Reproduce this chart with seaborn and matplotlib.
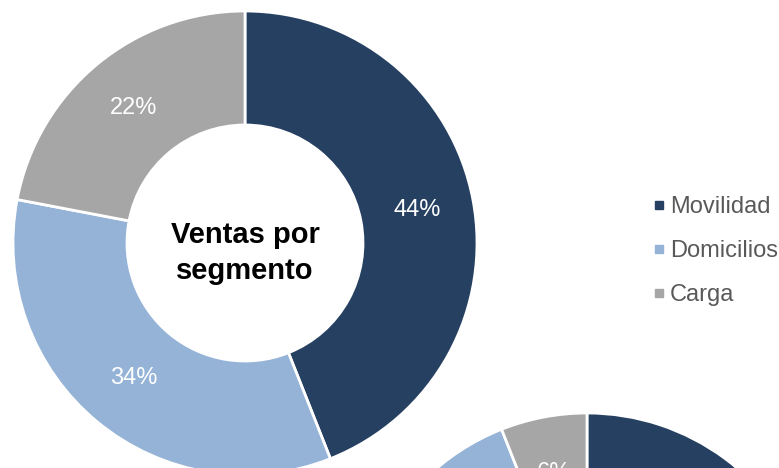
import matplotlib
matplotlib.use('Agg')
import matplotlib.pyplot as plt
import seaborn as sns
from matplotlib.lines import Line2D

sns.set_theme(style="white")
plt.rcParams['font.family'] = ['Liberation Sans', 'DejaVu Sans']

# datos
segmentos = ['Movilidad', 'Domicilios', 'Carga']
ventas = [44, 34, 22]
ventas_2 = [81, 13, 6]
colores = sns.color_palette(['#264061', '#95B3D7', '#A6A6A6'])

W, H = 779, 468
fig = plt.figure(figsize=(W / 100, H / 100), dpi=100)
ax = fig.add_axes([0, 0, 1, 1])

R = 232
ancho = 114
props = dict(width=ancho, edgecolor='white', linewidth=2)
txt = dict(color='white', fontsize=17)

wedges, _, _ = ax.pie(ventas, colors=colores, startangle=90, counterclock=False,
                      radius=R, center=(245, H - 243), wedgeprops=props,
                      autopct='%.0f%%', pctdistance=0.755, textprops=txt)
ax.pie(ventas_2, colors=colores, startangle=90, counterclock=False,
       radius=R, center=(587, H - 645), wedgeprops=props,
       autopct='%.0f%%', pctdistance=0.755, textprops=txt)

ax.text(245, H - 253, 'Ventas por\nsegmento', ha='center', va='center',
        fontsize=21, fontweight='bold', color='black', linespacing=1.4)

ax.set_xlim(0, W)
ax.set_ylim(0, H)
ax.set_aspect('equal')
ax.axis('off')

handles = [Line2D([], [], marker='s', linestyle='none', markersize=6,
                  markerfacecolor=c, markeredgecolor=c) for c in colores]
ax.legend(handles, segmentos, loc='upper left', bbox_to_anchor=(652 / W, 1 - 196 / H),
          frameon=False, fontsize=17, labelcolor='#595959', handlelength=0.6,
          handletextpad=0.15, labelspacing=0.93, borderaxespad=0, borderpad=0)

plt.savefig('out.png', dpi=100)
plt.close()
